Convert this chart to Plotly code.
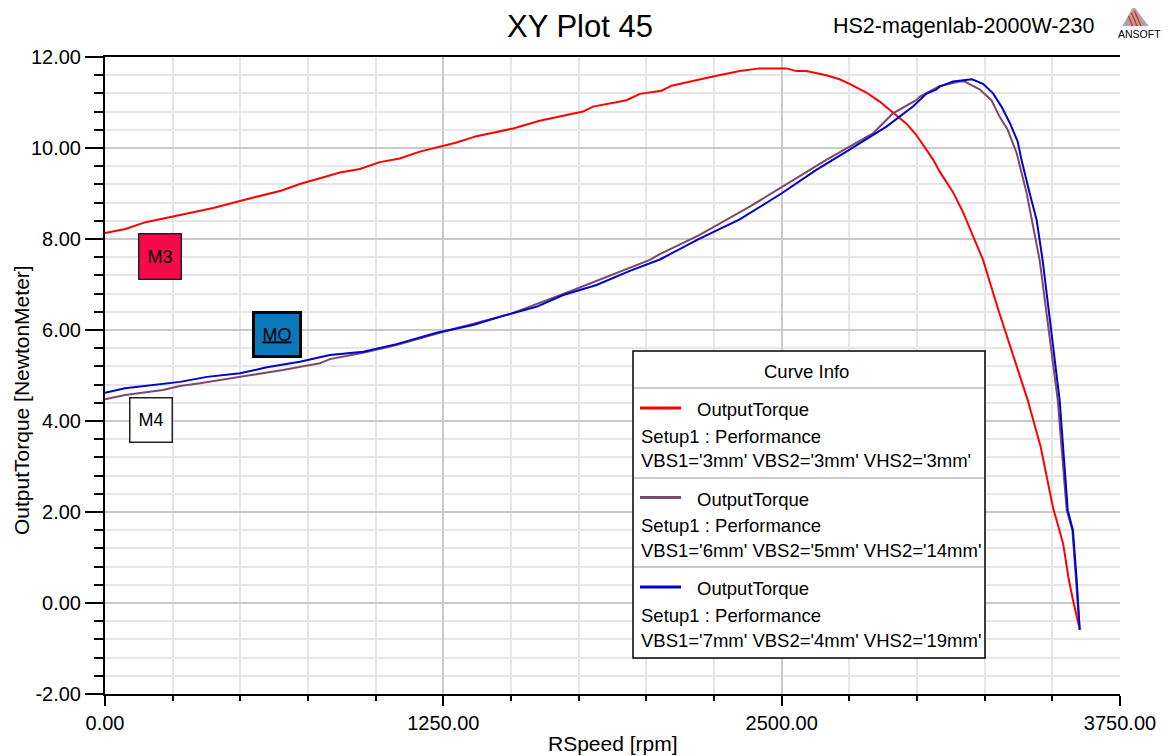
import plotly.graph_objects as go

# ---------------- data ----------------
speed_red = [0, 75, 150, 280, 400, 520, 650, 720, 868, 942, 1015, 1089, 1163, 1299, 1373,
             1508, 1606, 1766, 1803, 1927, 1976, 2056, 2093, 2246, 2345, 2419, 2518, 2554,
             2591, 2665, 2714, 2751, 2813, 2862, 2911, 2960, 2997, 3034, 3059, 3084, 3133,
             3170, 3244, 3300, 3350, 3409, 3457, 3502, 3540, 3561, 3576, 3598]
torque_red = [8.13, 8.22, 8.37, 8.53, 8.68, 8.87, 9.06, 9.21, 9.46, 9.54, 9.69, 9.77, 9.92,
              10.12, 10.26, 10.43, 10.60, 10.80, 10.91, 11.05, 11.19, 11.26, 11.37, 11.57,
              11.69, 11.75, 11.75, 11.69, 11.69, 11.60, 11.51, 11.41, 11.22, 11.02, 10.78,
              10.54, 10.29, 9.97, 9.75, 9.48, 9.03, 8.59, 7.54, 6.45, 5.55, 4.46, 3.43, 2.11,
              1.30, 0.51, 0.07, -0.50]

speed_purple = [0, 74, 214, 277, 351, 499, 657, 794, 831, 954, 1077, 1237, 1496, 1693, 1840,
                1939, 2013, 2050, 2197, 2382, 2499, 2665, 2837, 2911, 2997, 3011, 3083, 3157,
                3176, 3231, 3275, 3305, 3335, 3368, 3405, 3427, 3453, 3520, 3553, 3574, 3588, 3601]
torque_purple = [4.48, 4.57, 4.68, 4.77, 4.83, 4.97, 5.12, 5.27, 5.36, 5.50, 5.67, 5.94, 6.35,
                 6.79, 7.14, 7.36, 7.54, 7.67, 8.09, 8.71, 9.13, 9.74, 10.32, 10.76, 11.05,
                 11.13, 11.36, 11.46, 11.46, 11.29, 11.05, 10.69, 10.40, 9.89, 9.01, 8.35,
                 7.54, 4.46, 2.04, 1.60, 0.51, -0.59]

speed_blue = [0, 74, 277, 377, 499, 598, 720, 794, 831, 954, 1077, 1225, 1360, 1471, 1594,
              1693, 1816, 1939, 2050, 2197, 2345, 2499, 2628, 2739, 2887, 2985, 3011, 3034,
              3072, 3084, 3133, 3203, 3244, 3281, 3312, 3343, 3372, 3386, 3416, 3442, 3464,
              3495, 3527, 3557, 3576, 3590, 3601]
torque_blue = [4.62, 4.72, 4.86, 4.97, 5.05, 5.18, 5.30, 5.39, 5.45, 5.52, 5.69, 5.94, 6.11,
               6.31, 6.51, 6.77, 6.99, 7.30, 7.55, 8.01, 8.43, 9.00, 9.52, 9.92, 10.47, 10.91,
               11.05, 11.19, 11.29, 11.35, 11.46, 11.51, 11.41, 11.20, 10.91, 10.55, 10.14,
               9.74, 9.01, 8.42, 7.54, 6.00, 4.46, 2.04, 1.60, 0.51, -0.59]

x_tick_vals = [0, 1250, 2500, 3750]
x_tick_text = ["0.00", "1250.00", "2500.00", "3750.00"]
y_tick_vals = [-2, 0, 2, 4, 6, 8, 10, 12]
y_tick_text = ["-2.00", "0.00", "2.00", "4.00", "6.00", "8.00", "10.00", "12.00"]

legend_params = ["VBS1='3mm' VBS2='3mm' VHS2='3mm'",
                 "VBS1='6mm' VBS2='5mm' VHS2='14mm'",
                 "VBS1='7mm' VBS2='4mm' VHS2='19mm'"]
colors = ["#ff0000", "#7b4a6a", "#0000d0"]

# ---------------- layout geometry ----------------
# the page places the figure 8px from the top-left corner
OFF = 8
PLOT_L, PLOT_R, PLOT_T, PLOT_B = 105, 1120, 57, 694   # plot area in page pixels
W, H = 1175 - OFF, 756 - OFF
L = PLOT_L - OFF
T = PLOT_T - OFF
R = W - (PLOT_R - OFF)
B = H - (PLOT_B - OFF)
PW = PLOT_R - PLOT_L
PH = PLOT_B - PLOT_T
FONT = "Liberation Sans, Arial, sans-serif"


def px(x):
    return (x - PLOT_L) / PW


def py(y):
    return (PLOT_B - y) / PH


fig = go.Figure()
for xs, ys, c in [(speed_red, torque_red, colors[0]),
                  (speed_purple, torque_purple, colors[1]),
                  (speed_blue, torque_blue, colors[2])]:
    fig.add_trace(go.Scatter(x=xs, y=ys, mode="lines", line=dict(color=c, width=2),
                             showlegend=False, hoverinfo="skip"))

shapes = []
annotations = []

# legend box
shapes.append(dict(type="rect", xref="paper", yref="paper", x0=px(633), x1=px(985),
                   y0=py(658), y1=py(351), line=dict(color="black", width=1.5),
                   fillcolor="white", layer="above"))
for sy in [388, 478, 567]:
    shapes.append(dict(type="line", xref="paper", yref="paper", x0=px(634), x1=px(984),
                       y0=py(sy), y1=py(sy), line=dict(color="#b8b8b8", width=1.5),
                       layer="above"))
annotations.append(dict(text="Curve Info", x=px(806), y=py(371), xref="paper", yref="paper",
                        showarrow=False, font=dict(size=18.5, color="black", family=FONT),
                        xanchor="center", yanchor="middle"))
for i in range(3):
    off = i * 89.5
    shapes.append(dict(type="line", xref="paper", yref="paper", x0=px(640), x1=px(681),
                       y0=py(408 + off), y1=py(408 + off),
                       line=dict(color=colors[i], width=3), layer="above"))
    for txt, xx, yy in [("OutputTorque", 695, 409.5 + off),
                        ("Setup1 : Performance", 639, 436 + off),
                        (legend_params[i], 639, 461 + off)]:
        annotations.append(dict(text=txt, x=px(xx), y=py(yy), xref="paper", yref="paper",
                                showarrow=False, xanchor="left", yanchor="middle",
                                font=dict(size=18.5, color="black", family=FONT)))

# marker boxes
annotations.append(dict(text="M3", x=px(160), y=py(256.5), xref="paper", yref="paper",
                        showarrow=False, bgcolor="#f50a4b", bordercolor="#222222",
                        borderwidth=1.5, borderpad=0, width=41, height=44,
                        font=dict(size=18, color="black", family=FONT),
                        xanchor="center", yanchor="middle"))
annotations.append(dict(text="<u>MO</u>", x=px(277), y=py(334.5), xref="paper", yref="paper",
                        showarrow=False, bgcolor="#0a78bb", bordercolor="black",
                        borderwidth=3, borderpad=0, width=44, height=41,
                        font=dict(size=18, color="black", family=FONT),
                        xanchor="center", yanchor="middle"))
annotations.append(dict(text="M4", x=px(151), y=py(420), xref="paper", yref="paper",
                        showarrow=False, bgcolor="white", bordercolor="#222222",
                        borderwidth=1.5, borderpad=0, width=41, height=43,
                        font=dict(size=18, color="black", family=FONT),
                        xanchor="center", yanchor="middle"))

# titles
annotations.append(dict(text="XY Plot 45", x=px(580), y=py(26), xref="paper", yref="paper",
                        showarrow=False, font=dict(size=31, color="black", family=FONT),
                        xanchor="center", yanchor="middle"))
annotations.append(dict(text="HS2-magenlab-2000W-230", x=px(963), y=py(26), xref="paper",
                        yref="paper", showarrow=False,
                        font=dict(size=21.5, color="black", family=FONT),
                        xanchor="center", yanchor="middle"))
annotations.append(dict(text="RSpeed [rpm]", x=px(613), y=py(743), xref="paper", yref="paper",
                        showarrow=False, font=dict(size=21, color="black", family=FONT),
                        xanchor="center", yanchor="middle"))
annotations.append(dict(text="OutputTorque [NewtonMeter]", x=px(21), y=py(400), xref="paper",
                        yref="paper", showarrow=False, textangle=-90,
                        font=dict(size=21, color="black", family=FONT),
                        xanchor="center", yanchor="middle"))

# ANSOFT logo
tri = "M {} {} L {} {} L {} {} Z".format(px(1133.5), py(6), px(1148.5), py(26), px(1122.5), py(26))
shapes.append(dict(type="path", xref="paper", yref="paper", path=tri,
                   fillcolor="#a6a6a6", line=dict(width=0)))
for (a, b, c, d) in [(1128.5, 16, 1132.5, 26), (1131.5, 13, 1137, 26), (1134.5, 11, 1141, 26)]:
    shapes.append(dict(type="line", xref="paper", yref="paper", x0=px(a), y0=py(b),
                       x1=px(c), y1=py(d), line=dict(color="#ff1a1a", width=1.3)))
annotations.append(dict(text="ANSOFT", x=px(1139.5), y=py(34.5), xref="paper", yref="paper",
                        showarrow=False, font=dict(size=10.5, color="black", family=FONT),
                        xanchor="center", yanchor="middle"))

axis_common = dict(
    showline=True, linecolor="black", linewidth=2,
    ticks="outside", tickcolor="black", tickwidth=1.5,
    showgrid=True, gridcolor="#c9c9c9", gridwidth=1.5,
    zeroline=False,
    tickfont=dict(size=20, color="black", family=FONT),
)

fig.update_layout(
    width=W, height=H,
    margin=dict(l=L, r=R, t=T, b=B),
    paper_bgcolor="white", plot_bgcolor="white",
    shapes=shapes, annotations=annotations,
    showlegend=False,
    xaxis=dict(range=[0, 3750], tickmode="array", tickvals=x_tick_vals, ticktext=x_tick_text,
               ticklen=10, mirror=True,
               minor=dict(tick0=0, dtick=250, ticks="outside", ticklen=5, tickcolor="black",
                          tickwidth=1.5, showgrid=True, gridcolor="#e6e6e6", gridwidth=1.5),
               **axis_common),
    yaxis=dict(range=[-2, 12], tickmode="array", tickvals=y_tick_vals, ticktext=y_tick_text,
               ticklen=18,
               minor=dict(tick0=0, dtick=0.4, ticks="outside", ticklen=9, tickcolor="black",
                          tickwidth=1.5, showgrid=True, gridcolor="#e6e6e6", gridwidth=1.5),
               **axis_common),
)

fig.write_html("out.html")
